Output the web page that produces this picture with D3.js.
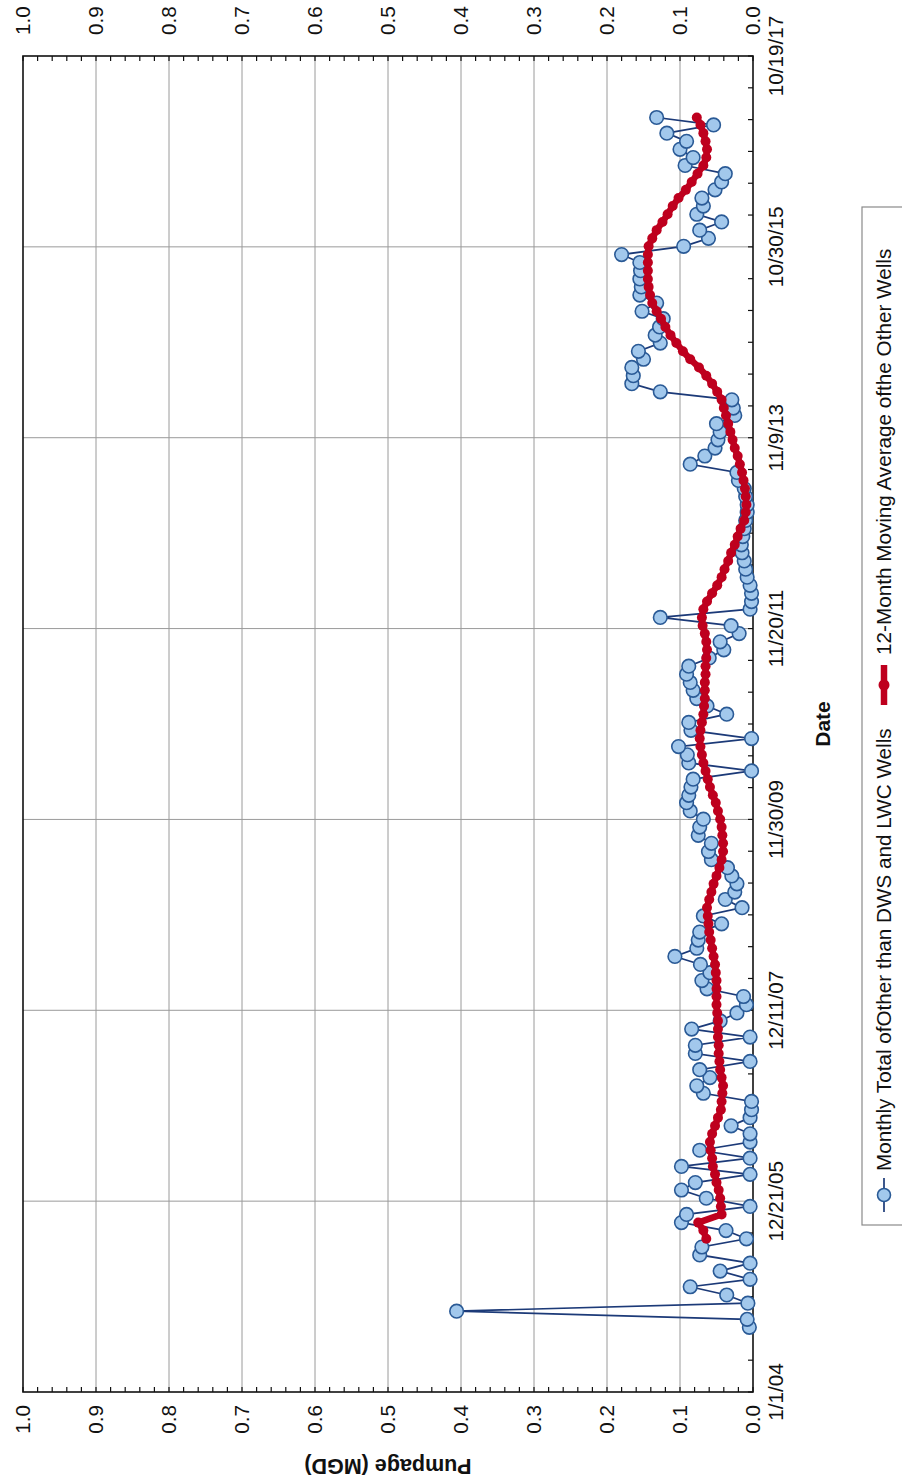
<!DOCTYPE html>
<html>
<head>
<meta charset="utf-8">
<script src="https://cdn.jsdelivr.net/npm/d3@7"></script>
<style>
  html, body { margin: 0; padding: 0; background: #fff; }
  svg { display: block; }
  text { font-family: "Liberation Sans", Arial, Helvetica, sans-serif; fill: #111; }
</style>
</head>
<body>
<svg id="chart" width="902" height="1483"></svg>
<script>
// ---- data -------------------------------------------------------------
// Monthly pumpage (MGD), one value per month starting with the first month below
const firstMonth = "2004-09-01";
const monthlyTotal = [
  0.005, 0.008, 0.406, 0.007, 0.036, 0.086, 0.004, 0.045, 0.004, 0.073,
  0.070, 0.009, 0.037, 0.098, 0.091, 0.004, 0.064, 0.098, 0.079, 0.004,
  0.098, 0.004, 0.073, 0.004, 0.004, 0.030, 0.004, 0.002, 0.002, 0.068,
  0.077, 0.059, 0.073, 0.004, 0.079, 0.079, 0.004, 0.084, 0.045, 0.022,
  0.009, 0.013, 0.063, 0.070, 0.059, 0.072, 0.107, 0.077, 0.075, 0.073,
  0.043, 0.068, 0.015, 0.038, 0.025, 0.022, 0.029, 0.035, 0.057, 0.061,
  0.057, 0.075, 0.073, 0.068, 0.086, 0.091, 0.088, 0.085, 0.082, 0.002,
  0.088, 0.090, 0.102, 0.002, 0.085, 0.088, 0.036, 0.063, 0.077, 0.082,
  0.086, 0.091, 0.088, 0.060, 0.040, 0.045, 0.019, 0.030, 0.127, 0.004,
  0.002, 0.002, 0.004, 0.008, 0.010, 0.012, 0.015, 0.016, 0.014, 0.012,
  0.010, 0.008, 0.008, 0.010, 0.012, 0.020, 0.022, 0.086, 0.066, 0.052,
  0.048, 0.045, 0.050, 0.025, 0.027, 0.029, 0.127, 0.166, 0.164, 0.166,
  0.150, 0.157, 0.127, 0.134, 0.128, 0.123, 0.152, 0.132, 0.155, 0.153,
  0.155, 0.154, 0.155, 0.180, 0.095, 0.061, 0.073, 0.043, 0.077, 0.068,
  0.070, 0.052, 0.043, 0.038, 0.093, 0.082, 0.100, 0.091, 0.118, 0.054,
  0.132
];

// 12-month moving average (MGD), one value per month from its first month
const movingAvgStart = "2005-08-01";
const movingAvg = [
  0.064, 0.068, 0.075, 0.043, 0.044, 0.045, 0.047, 0.050, 0.052, 0.055,
  0.056, 0.058, 0.059, 0.056, 0.052, 0.048, 0.044, 0.043, 0.042, 0.041,
  0.043, 0.045, 0.046, 0.047, 0.047, 0.048, 0.048, 0.048, 0.049, 0.050,
  0.050, 0.050, 0.050, 0.051, 0.052, 0.054, 0.056, 0.058, 0.060, 0.061,
  0.062, 0.063, 0.060, 0.057, 0.054, 0.050, 0.046, 0.043, 0.041, 0.041,
  0.042, 0.043, 0.045, 0.048, 0.051, 0.055, 0.059, 0.062, 0.065, 0.068,
  0.070, 0.072, 0.073, 0.072, 0.070, 0.068, 0.067, 0.066, 0.066, 0.066,
  0.065, 0.065, 0.064, 0.063, 0.064, 0.066, 0.069, 0.070, 0.068, 0.063,
  0.056, 0.049, 0.043, 0.039, 0.034, 0.030, 0.025, 0.021, 0.017, 0.012,
  0.010, 0.009, 0.010, 0.011, 0.013, 0.015, 0.018, 0.021, 0.025, 0.028,
  0.031, 0.034, 0.037, 0.040, 0.043, 0.049, 0.056, 0.064, 0.074, 0.086,
  0.096, 0.105, 0.113, 0.120, 0.126, 0.132, 0.138, 0.141, 0.143, 0.144,
  0.144, 0.144, 0.144, 0.143, 0.138, 0.132, 0.124, 0.117, 0.110, 0.102,
  0.092, 0.084, 0.076, 0.068, 0.064, 0.063, 0.065, 0.068, 0.072, 0.077
];

const dateTickLabels = ["1/1/04", "12/21/05", "12/11/07", "11/30/09", "11/20/11", "11/9/13", "10/30/15", "10/19/17"];
const valueTickLabels = ["0.0", "0.1", "0.2", "0.3", "0.4", "0.5", "0.6", "0.7", "0.8", "0.9", "1.0"];
const seriesNames = ["Monthly Total ofOther than DWS and LWC Wells", "12-Month Moving Average ofthe Other Wells"];
const axisTitles = { date: "Date", value: "Pumpage (MGD)" };

// ---- layout (the chart is laid out landscape, then turned a quarter turn) ----
const W = 1483, H = 902;
const plot = { left: 91, right: 1427, top: 23, bottom: 753 };
const FONT = 20.7;
const colors = {
  markerFill: "#a2c8ec", markerStroke: "#2a5a96", line: "#1c3a78",
  avg: "#be001e", grid: "#9a9a9a", frame: "#111"
};

const parseTick = d3.utcParse("%m/%d/%y");
const parseDay = d3.utcParse("%Y-%m-%d");
const dateTicks = dateTickLabels.map(parseTick);
const valueTicks = valueTickLabels.map(Number);

const x = d3.scaleUtc()
  .domain([dateTicks[0], dateTicks[dateTicks.length - 1]])
  .range([plot.left, plot.right]);
const y = d3.scaleLinear().domain([0, 1]).range([plot.bottom, plot.top]);

const monthly = monthlyTotal.map((v, i) => ({ date: d3.utcMonth.offset(parseDay(firstMonth), i), value: v }));
const avg = movingAvg.map((v, i) => ({ date: d3.utcMonth.offset(parseDay(movingAvgStart), i), value: v }));

const svg = d3.select("#chart");
const g = svg.append("g").attr("transform", `translate(0,${W}) rotate(-90)`);

// gridlines
g.append("g").selectAll("line").data(dateTicks.slice(1, -1)).join("line")
  .attr("x1", d => x(d)).attr("x2", d => x(d))
  .attr("y1", plot.top).attr("y2", plot.bottom)
  .attr("stroke", colors.grid).attr("stroke-width", 1);
g.append("g").selectAll("line").data(valueTicks.slice(1, -1)).join("line")
  .attr("x1", plot.left).attr("x2", plot.right)
  .attr("y1", d => y(d)).attr("y2", d => y(d))
  .attr("stroke", colors.grid).attr("stroke-width", 1);

// minor ticks, pointing into the plot
const minorValues = d3.range(0, 51).map(i => i / 50);
const tickLen = 5;
const ticks = g.append("g").attr("stroke", colors.frame).attr("stroke-width", 1.2);
ticks.selectAll("line.l").data(minorValues).join("line").attr("class", "l")
  .attr("x1", plot.left).attr("x2", plot.left + tickLen)
  .attr("y1", d => y(d)).attr("y2", d => y(d));
ticks.selectAll("line.r").data(minorValues).join("line").attr("class", "r")
  .attr("x1", plot.right).attr("x2", plot.right - tickLen)
  .attr("y1", d => y(d)).attr("y2", d => y(d));
const minorDates = d3.range(0, 43).map(i => d3.utcDay.offset(dateTicks[0], i * 120));
ticks.selectAll("line.b").data(minorDates).join("line").attr("class", "b")
  .attr("x1", d => x(d)).attr("x2", d => x(d))
  .attr("y1", plot.bottom).attr("y2", plot.bottom - tickLen);

// frame
g.append("rect")
  .attr("x", plot.left).attr("y", plot.top)
  .attr("width", plot.right - plot.left).attr("height", plot.bottom - plot.top)
  .attr("fill", "none").attr("stroke", colors.frame).attr("stroke-width", 1.6);

// tick labels
g.append("g").selectAll("text").data(dateTicks).join("text")
  .attr("x", d => x(d)).attr("y", plot.bottom + 15).attr("dy", "0.71em")
  .attr("text-anchor", "middle").style("font-size", FONT + "px")
  .text((d, i) => dateTickLabels[i]);
g.append("g").selectAll("text").data(valueTicks).join("text")
  .attr("x", plot.left - 13).attr("y", d => y(d)).attr("dy", "0.35em")
  .attr("text-anchor", "end").style("font-size", FONT + "px")
  .text((d, i) => valueTickLabels[i]);
g.append("g").selectAll("text").data(valueTicks).join("text")
  .attr("x", plot.right + 21).attr("y", d => y(d)).attr("dy", "0.35em")
  .attr("text-anchor", "start").style("font-size", FONT + "px")
  .text((d, i) => valueTickLabels[i]);

// axis titles
g.append("text")
  .attr("x", (plot.left + plot.right) / 2).attr("y", 830)
  .attr("text-anchor", "middle").style("font-size", "21px").style("font-weight", "bold")
  .text(axisTitles.date);
g.append("text")
  .attr("transform", `translate(24,${(plot.top + plot.bottom) / 2}) rotate(-90)`)
  .attr("text-anchor", "middle").style("font-size", "21.5px").style("font-weight", "bold")
  .text(axisTitles.value);

// monthly series
const lineGen = d3.line().x(d => x(d.date)).y(d => y(d.value));
g.append("path").datum(monthly)
  .attr("d", lineGen).attr("fill", "none")
  .attr("stroke", colors.line).attr("stroke-width", 1.7);
g.append("g").selectAll("circle").data(monthly).join("circle")
  .attr("cx", d => x(d.date)).attr("cy", d => y(d.value)).attr("r", 6.8)
  .attr("fill", colors.markerFill).attr("stroke", colors.markerStroke).attr("stroke-width", 1.6);

// moving average
g.append("path").datum(avg)
  .attr("d", lineGen).attr("fill", "none")
  .attr("stroke", colors.avg).attr("stroke-width", 6.5).attr("stroke-linejoin", "round");
g.append("g").selectAll("circle").data(avg).join("circle")
  .attr("cx", d => x(d.date)).attr("cy", d => y(d.value)).attr("r", 5)
  .attr("fill", colors.avg);

// legend
const leg = g.append("g");
leg.append("rect")
  .attr("x", 258).attr("y", 862).attr("width", 1018).attr("height", 80)
  .attr("fill", "#fff").attr("stroke", "#8a8a8a").attr("stroke-width", 1.2);
const ly = 884;
leg.append("line").attr("x1", 271).attr("x2", 305).attr("y1", ly).attr("y2", ly)
  .attr("stroke", colors.line).attr("stroke-width", 1.7);
leg.append("circle").attr("cx", 288).attr("cy", ly).attr("r", 6.5)
  .attr("fill", colors.markerFill).attr("stroke", colors.markerStroke).attr("stroke-width", 1.6);
leg.append("text").attr("x", 312).attr("y", ly).attr("dy", "0.35em")
  .style("font-size", FONT + "px").text(seriesNames[0]);
leg.append("line").attr("x1", 778).attr("x2", 818).attr("y1", ly).attr("y2", ly)
  .attr("stroke", colors.avg).attr("stroke-width", 6.5);
leg.append("circle").attr("cx", 798).attr("cy", ly).attr("r", 5.5).attr("fill", colors.avg);
leg.append("text").attr("x", 828).attr("y", ly).attr("dy", "0.35em")
  .style("font-size", FONT + "px").text(seriesNames[1]);
</script>
</body>
</html>
